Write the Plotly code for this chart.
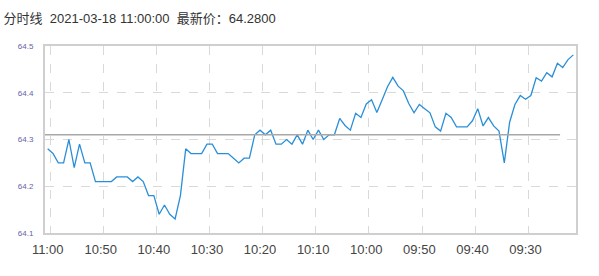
import plotly.graph_objects as go

# ---- data (1-minute prices, newest first: 11:00 back to 09:21) ----
prices = [
    64.28, 64.27, 64.25, 64.25, 64.30, 64.24, 64.29, 64.25, 64.25, 64.21,
    64.21, 64.21, 64.21, 64.22, 64.22, 64.22, 64.21, 64.22, 64.21, 64.18,
    64.18, 64.14, 64.16, 64.14, 64.13, 64.18, 64.28, 64.27, 64.27, 64.27,
    64.29, 64.29, 64.27, 64.27, 64.27, 64.26, 64.25, 64.26, 64.26, 64.31,
    64.32, 64.31, 64.32, 64.29, 64.29, 64.30, 64.29, 64.31, 64.29, 64.32,
    64.30, 64.32, 64.30, 64.31, 64.31, 64.345, 64.33, 64.32, 64.356, 64.347,
    64.376, 64.385, 64.358, 64.385, 64.413, 64.433, 64.414, 64.404, 64.377, 64.357,
    64.375, 64.366, 64.357, 64.327, 64.318, 64.356, 64.347, 64.327, 64.327, 64.327,
    64.34, 64.366, 64.329, 64.347, 64.329, 64.318, 64.25, 64.337, 64.375, 64.394,
    64.386, 64.394, 64.432, 64.425, 64.443, 64.434, 64.463, 64.454, 64.471, 64.481,
]
prev_close = 64.31
tick_labels = ["11:00", "10:50", "10:40", "10:30", "10:20",
               "10:10", "10:00", "09:50", "09:40", "09:30"]
y_ticks = [64.1, 64.2, 64.3, 64.4, 64.5]
title_text = "分时线\u00a0\u00a02021-03-18 11:00:00\u00a0\u00a0最新价：64.2800"

n = len(prices)
xs = list(range(n))
label_step = 10
tick_pos = [i * label_step for i in range(len(tick_labels))]
grid_pos = [p + 0.5 for p in tick_pos]
ref_end = n - 3.5

fig = go.Figure()
fig.add_trace(go.Scatter(x=xs, y=prices, mode="lines",
                         line=dict(color="#2a8fd8", width=1.3),
                         hoverinfo="skip", showlegend=False))
fig.add_shape(type="line", xref="x", yref="y", x0=-0.5, x1=ref_end,
              y0=prev_close, y1=prev_close,
              line=dict(color="#a8a8a8", width=1.5), layer="above")

fig.update_layout(
    width=599, height=276,
    margin=dict(l=45, r=23, t=46, b=43),
    paper_bgcolor="white", plot_bgcolor="white",
    font=dict(family="Liberation Sans, Arial, Noto Sans CJK SC", color="#333"),
    title=dict(text=title_text, x=0.006, xref="container", xanchor="left",
               y=1 - 18 / 276, yref="container", yanchor="middle",
               font=dict(size=13, color="#333",
                         family="Liberation Sans, Arial, Noto Sans CJK SC")),
)
fig.update_xaxes(
    range=[-0.5, n - 0.5],
    tickmode="array", tickvals=tick_pos, ticktext=tick_labels,
    showgrid=False, zeroline=False,
    tickfont=dict(size=13, color="#444"),
    ticks="outside", ticklen=3, tickcolor="rgba(0,0,0,0)",
    showline=True, linecolor="#cfcfcf", linewidth=2, mirror=True,
    minor=dict(tickmode="array", tickvals=grid_pos, showgrid=True,
               gridcolor="#d9d9d9", griddash="dash", gridwidth=1, ticks=""),
)
fig.update_yaxes(
    range=[y_ticks[0], y_ticks[-1]],
    tickmode="array", tickvals=y_ticks, ticktext=[f"{v:.1f}" for v in y_ticks],
    showgrid=True, gridcolor="#d9d9d9", griddash="dash", gridwidth=1,
    zeroline=False,
    tickfont=dict(size=8, color="#6464a8"),
    ticks="outside", ticklen=8, tickcolor="rgba(0,0,0,0)",
    showline=True, linecolor="#cfcfcf", linewidth=2, mirror=True,
)

fig.write_html("out.html")
